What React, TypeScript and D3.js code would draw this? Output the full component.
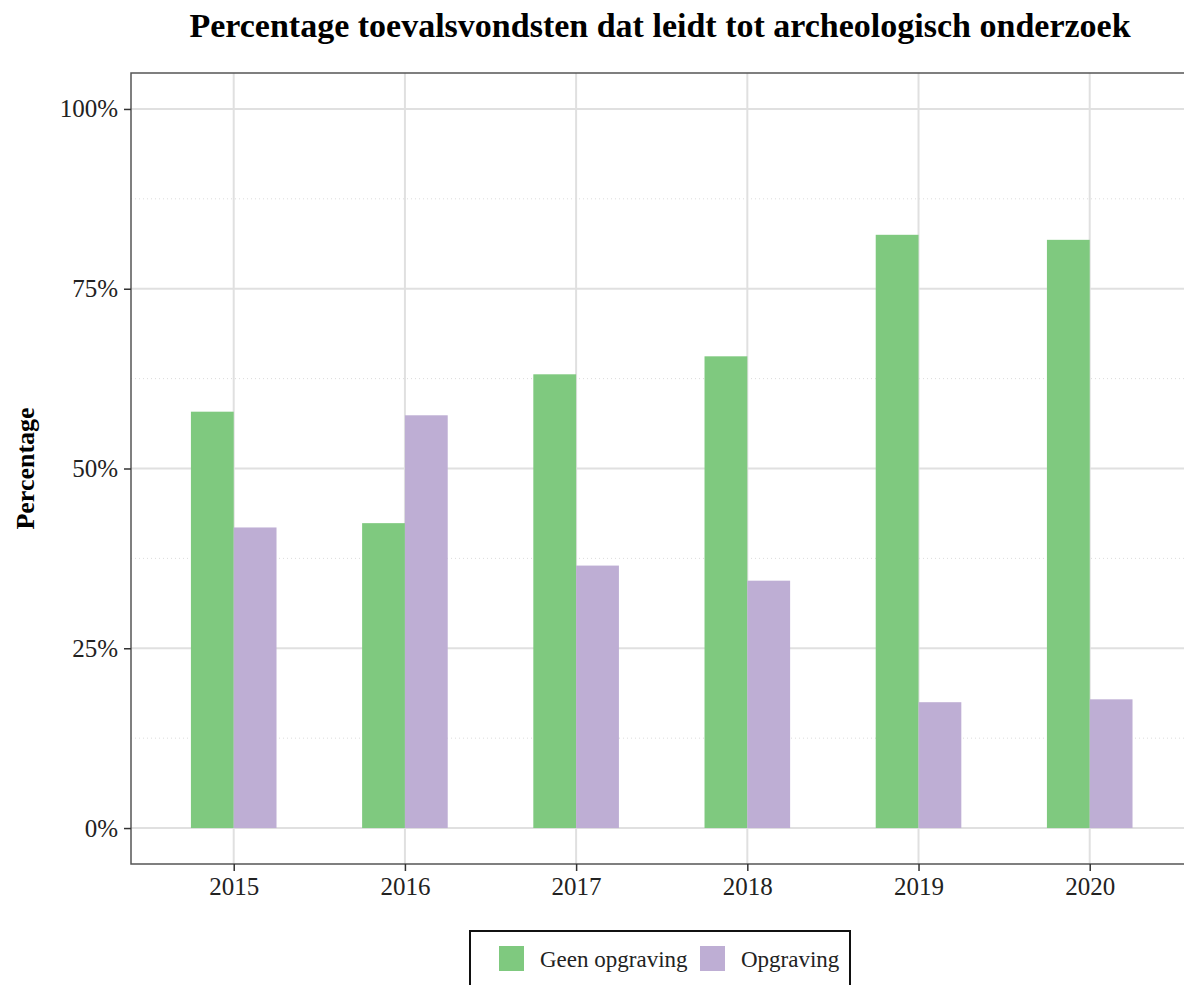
import React, { useEffect, useRef } from "react";
import * as d3 from "d3";

const years = ["2015", "2016", "2017", "2018", "2019", "2020"];
const geenOpgraving = [57.9, 42.4, 63.1, 65.6, 82.5, 81.8];
const opgraving = [41.8, 57.4, 36.5, 34.4, 17.5, 17.9];
const seriesNames = ["Geen opgraving", "Opgraving"];
const seriesColors = ["#7fc97f", "#beaed4"];
const yTicks = [0, 25, 50, 75, 100];
const yMinor = [12.5, 37.5, 62.5, 87.5];

const W = 1184, H = 985;
const FONT = "'Liberation Serif', 'Times New Roman', serif";

function App() {
  const ref = useRef<SVGSVGElement>(null);

  useEffect(() => {
    const svg = d3.select(ref.current);
    svg.selectAll("*").remove();

    const left = 131, top = 73, bottom = 864;
    // discrete axis with 0.6 expansion on each side
    const step = 171.2;
    const right = left + step * (years.length - 1 + 1.2);

    const x = d3.scalePoint<string>().domain(years).range([left + 0.6 * step, right - 0.6 * step]);
    const y = d3.scaleLinear().domain([-5, 105]).range([bottom, top]);
    const barW = step * 0.25;

    const g = svg.append("g");

    // minor grid (dotted)
    g.selectAll(".minor").data(yMinor).enter().append("line")
      .attr("x1", left).attr("x2", right)
      .attr("y1", d => y(d)).attr("y2", d => y(d))
      .attr("stroke", "#dcdcdc").attr("stroke-width", 1).attr("stroke-dasharray", "1,3");

    // major grid
    g.selectAll(".major").data(yTicks).enter().append("line")
      .attr("x1", left).attr("x2", right)
      .attr("y1", d => y(d)).attr("y2", d => y(d))
      .attr("stroke", "#e0e0e0").attr("stroke-width", 2);

    g.selectAll(".vgrid").data(years).enter().append("line")
      .attr("x1", d => x(d)!).attr("x2", d => x(d)!)
      .attr("y1", top).attr("y2", bottom)
      .attr("stroke", "#e0e0e0").attr("stroke-width", 2);

    // bars
    const series = [geenOpgraving, opgraving];
    series.forEach((vals, si) => {
      g.selectAll(".bar" + si).data(years).enter().append("rect")
        .attr("x", d => x(d)! - barW + si * barW)
        .attr("width", barW)
        .attr("y", (d, i) => y(vals[i]))
        .attr("height", (d, i) => y(0) - y(vals[i]))
        .attr("fill", seriesColors[si]);
    });

    // panel border
    g.append("rect")
      .attr("x", left).attr("y", top)
      .attr("width", right - left).attr("height", bottom - top)
      .attr("fill", "none").attr("stroke", "#555").attr("stroke-width", 1.5);

    // y axis ticks
    const yAxis = g.append("g").attr("transform", `translate(${left},0)`)
      .call(d3.axisLeft(y).tickValues(yTicks).tickSize(7).tickPadding(6).tickFormat(d => `${d}%`));
    yAxis.select(".domain").remove();
    yAxis.selectAll("line").attr("stroke", "#333").attr("stroke-width", 1.5);
    yAxis.selectAll("text").attr("font-family", FONT).attr("font-size", 25).attr("fill", "#222");

    const xAxis = g.append("g").attr("transform", `translate(0,${bottom})`)
      .call(d3.axisBottom(x).tickSize(7).tickPadding(6));
    xAxis.select(".domain").remove();
    xAxis.selectAll("line").attr("stroke", "#333").attr("stroke-width", 1.5);
    xAxis.selectAll("text").attr("font-family", FONT).attr("font-size", 25).attr("fill", "#222");

    // title
    svg.append("text")
      .attr("x", 660).attr("y", 37)
      .attr("text-anchor", "middle")
      .attr("font-family", FONT).attr("font-weight", "bold").attr("font-size", 34)
      .text("Percentage toevalsvondsten dat leidt tot archeologisch onderzoek");

    // y label
    svg.append("text")
      .attr("transform", `translate(34,${(top + bottom) / 2}) rotate(-90)`)
      .attr("text-anchor", "middle")
      .attr("font-family", FONT).attr("font-weight", "bold").attr("font-size", 26)
      .text("Percentage");

    // legend
    const lg = svg.append("g");
    lg.append("rect").attr("x", 470).attr("y", 931).attr("width", 380).attr("height", 70)
      .attr("fill", "#fff").attr("stroke", "#111").attr("stroke-width", 2);
    const keyX = [499, 700];
    seriesNames.forEach((name, i) => {
      lg.append("rect").attr("x", keyX[i]).attr("y", 946).attr("width", 25).attr("height", 25)
        .attr("fill", seriesColors[i]);
      lg.append("text").attr("x", keyX[i] + 41).attr("y", 967)
        .attr("font-family", FONT).attr("font-size", 23).attr("fill", "#222")
        .text(name);
    });
  }, []);

  return (
    <svg ref={ref} width={W} height={H}
      style={{ position: "absolute", left: 0, top: 0, background: "#fff" }} />
  );
}

export default App;
